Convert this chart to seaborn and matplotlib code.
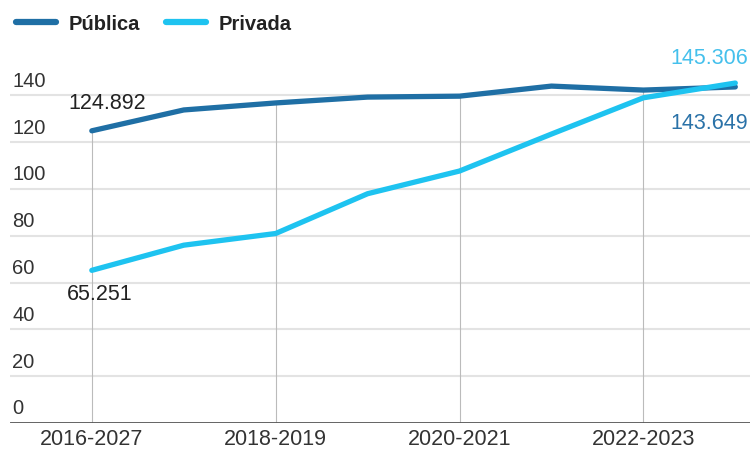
import pandas as pd
import matplotlib.pyplot as plt
import seaborn as sns
from matplotlib.lines import Line2D

cursos = ["2016-2027", "2017-2018", "2018-2019", "2019-2020",
          "2020-2021", "2021-2022", "2022-2023", "2023-2024"]
publica = [124.892, 133.8, 136.8, 139.3, 139.7, 144.0, 142.3, 143.649]
privada = [65.251, 76.0, 81.0, 98.0, 107.7, 123.5, 139.0, 145.306]
yticks = [0, 20, 40, 60, 80, 100, 120, 140]

c_pub = "#1f6fa5"
c_priv = "#1ec3f0"

df = pd.DataFrame({
    "i": list(range(len(cursos))) * 2,
    "valor": publica + privada,
    "tipo": ["Pública"] * len(cursos) + ["Privada"] * len(cursos),
})

sns.set_style("white")
plt.rcParams['font.family'] = ['Liberation Sans', 'DejaVu Sans']

fig = plt.figure(figsize=(7.5, 4.49), dpi=100)
ax = fig.add_axes([10 / 750, 26 / 449, 740 / 750, 423 / 449])

for y in yticks[1:]:
    ax.axhline(y, color="#e3e3e3", lw=1.5, zorder=0)
ax.axhline(0, color="#555555", lw=2, zorder=3)
for y in yticks:
    ax.text(0.003, y + 2, str(y), transform=ax.get_yaxis_transform(),
            fontsize=14.5, color="#333333", ha="left", va="bottom")

shown = list(range(0, len(cursos), 2))
ax.vlines(shown, 0, [publica[i] for i in shown], color="#bbbbbb", lw=0.8, zorder=1)

sns.lineplot(data=df, x="i", y="valor", hue="tipo", palette=[c_pub, c_priv],
             lw=3.8, ax=ax, legend=False, zorder=4,
             solid_capstyle="round")

ax.set_xlim(-0.89, 7.16)
ax.set_ylim(0, 180.8)
ax.set_xticks(shown)
ax.set_xticklabels([cursos[i] for i in shown], fontsize=15.5, color="#333333")
ax.tick_params(axis="x", length=0, pad=4)
ax.set_yticks([])
ax.set_xlabel("")
ax.set_ylabel("")
for s in ax.spines.values():
    s.set_visible(False)

fmt = lambda v: f"{v:.3f}"
ax.text(-0.26, publica[0] + 7, fmt(publica[0]), fontsize=15.5, color="#222222", ha="left", va="bottom")
ax.text(-0.27, privada[0] - 6, fmt(privada[0]), fontsize=15.5, color="#222222", ha="left", va="top")
ax.text(7.14, privada[-1] + 6, fmt(privada[-1]), fontsize=15.5, color="#45c0ec", ha="right", va="bottom")
ax.text(7.14, publica[-1] - 11, fmt(publica[-1]), fontsize=15.5, color="#2a72a8", ha="right", va="top")

handles = [Line2D([], [], color=c_pub, lw=4.5, solid_capstyle="round"),
           Line2D([], [], color=c_priv, lw=4.5, solid_capstyle="round")]
fig.legend(handles, ["Pública", "Privada"], loc="upper left", bbox_to_anchor=(-0.003, 1.008),
           ncol=2, frameon=False, handlelength=2.0, handletextpad=0.6, columnspacing=1.3,
           prop={"size": 14.5, "weight": "bold"}, labelcolor="#222222")

fig.savefig("out.png", dpi=100)
